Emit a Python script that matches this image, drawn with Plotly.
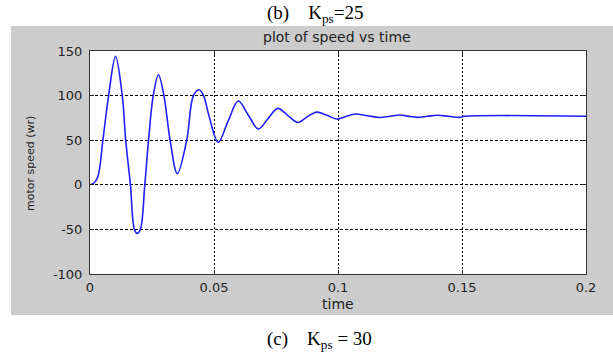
import plotly.graph_objects as go

# time samples (s) and motor speed (wr)
time_s = [0.0, 0.0016, 0.0032, 0.0052, 0.0075, 0.0103, 0.0130, 0.0144, 0.0163,
          0.0179, 0.0190, 0.0203, 0.0221, 0.0236, 0.0255, 0.0276, 0.0298, 0.0323,
          0.0352, 0.0390, 0.0417, 0.0440, 0.0458, 0.0480, 0.0517, 0.0556, 0.0598,
          0.0638, 0.0679, 0.0718, 0.0757, 0.0797, 0.0837, 0.0875, 0.0914, 0.0955,
          0.0995, 0.1032, 0.1069, 0.1118, 0.1167, 0.1210, 0.1250, 0.1280, 0.1320,
          0.1360, 0.1400, 0.1445, 0.1490, 0.1510, 0.2000]
speed = [0.0, 2.0, 9.4, 50.0, 100.0, 144.0, 100.0, 50.0, 0.0,
         -50.0, -54.5, -50.0, 0.0, 50.0, 100.0, 123.4, 100.0, 50.0,
         12.5, 50.0, 100.0, 106.6, 100.0, 77.0, 47.6, 70.8, 94.0,
         78.3, 62.6, 74.2, 85.7, 77.9, 70.0, 76.0, 81.5, 77.9,
         73.8, 76.6, 79.4, 77.5, 75.5, 76.9, 78.3, 77.0, 75.6,
         76.8, 78.0, 76.8, 75.6, 76.8, 76.8]

x_tickvals = [0, 0.05, 0.1, 0.15, 0.2]
x_ticktext = ["0", "0.05", "0.1", "0.15", "0.2"]
y_tickvals = [-100, -50, 0, 50, 100, 150]
y_ticktext = ["-100", "-50", "0", "50", "100", "150"]

W, H = 613, 356
L, R, T, B = 90, 586, 51, 274
pw, ph = R - L, B - T


def px(xp):
    return (xp - L) / pw


def py(yp):
    return (B - yp) / ph


fig = go.Figure()
fig.add_trace(go.Scatter(x=time_s, y=speed, mode="lines",
                         line=dict(color="#1f1fff", width=1.6, shape="spline"),
                         hoverinfo="skip", showlegend=False))

tickfont = dict(family="DejaVu Sans", size=13, color="#222222")

fig.update_layout(
    width=W, height=H,
    margin=dict(l=L, r=W - R, t=T, b=H - B, pad=0, autoexpand=False),
    paper_bgcolor="white", plot_bgcolor="white",
    showlegend=False,
    shapes=[
        dict(type="rect", xref="paper", yref="paper", layer="below",
             x0=px(11), x1=px(640), y0=py(315), y1=py(26),
             fillcolor="#cccccc", line=dict(width=0)),
        dict(type="rect", xref="paper", yref="paper", layer="below",
             x0=0, x1=1, y0=0, y1=1,
             fillcolor="white", line=dict(width=0)),
    ],
    annotations=[
        dict(text="(b)&#160;&#160;&#160;&#160;K<sub>ps</sub>=25", xref="paper", yref="paper",
             x=px(315), y=py(14), showarrow=False, xanchor="center", yanchor="middle",
             font=dict(family="Liberation Serif", size=19, color="black")),
        dict(text="plot of speed vs time", xref="paper", yref="paper",
             x=px(337), y=py(37), showarrow=False, xanchor="center", yanchor="middle",
             font=dict(family="DejaVu Sans", size=14, color="#222222")),
        dict(text="time", xref="paper", yref="paper",
             x=px(338), y=py(304), showarrow=False, xanchor="center", yanchor="middle",
             font=dict(family="DejaVu Sans", size=14, color="#222222")),
        dict(text="motor speed (wr)", xref="paper", yref="paper",
             x=px(30), y=py(164), showarrow=False, textangle=-90,
             xanchor="center", yanchor="middle",
             font=dict(family="DejaVu Sans", size=11, color="#222222")),
        dict(text="(c)&#160;&#160;&#160;&#160;K<sub>ps</sub> = 30", xref="paper", yref="paper",
             x=px(319), y=py(340), showarrow=False, xanchor="center", yanchor="middle",
             font=dict(family="Liberation Serif", size=19, color="black")),
    ],
)

fig.update_xaxes(
    range=[0, 0.2], tickvals=x_tickvals, ticktext=x_ticktext,
    showline=True, linecolor="#333333", linewidth=1, mirror="ticks",
    ticks="inside", ticklen=4, tickcolor="#222222",
    showgrid=True, gridcolor="black", gridwidth=1, griddash="2px,2px",
    zeroline=False, tickfont=tickfont, ticklabelstandoff=1,
)
fig.update_yaxes(
    range=[-100, 150], tickvals=y_tickvals, ticktext=y_ticktext,
    showline=True, linecolor="#333333", linewidth=1, mirror="ticks",
    ticks="inside", ticklen=4, tickcolor="#222222",
    showgrid=True, gridcolor="black", gridwidth=1, griddash="3px,2px",
    zeroline=False, tickfont=tickfont, ticklabelstandoff=4,
)

fig.write_html("out.html", config={"displayModeBar": False},
               post_script="document.body.style.margin='0';document.body.style.padding='0';")
